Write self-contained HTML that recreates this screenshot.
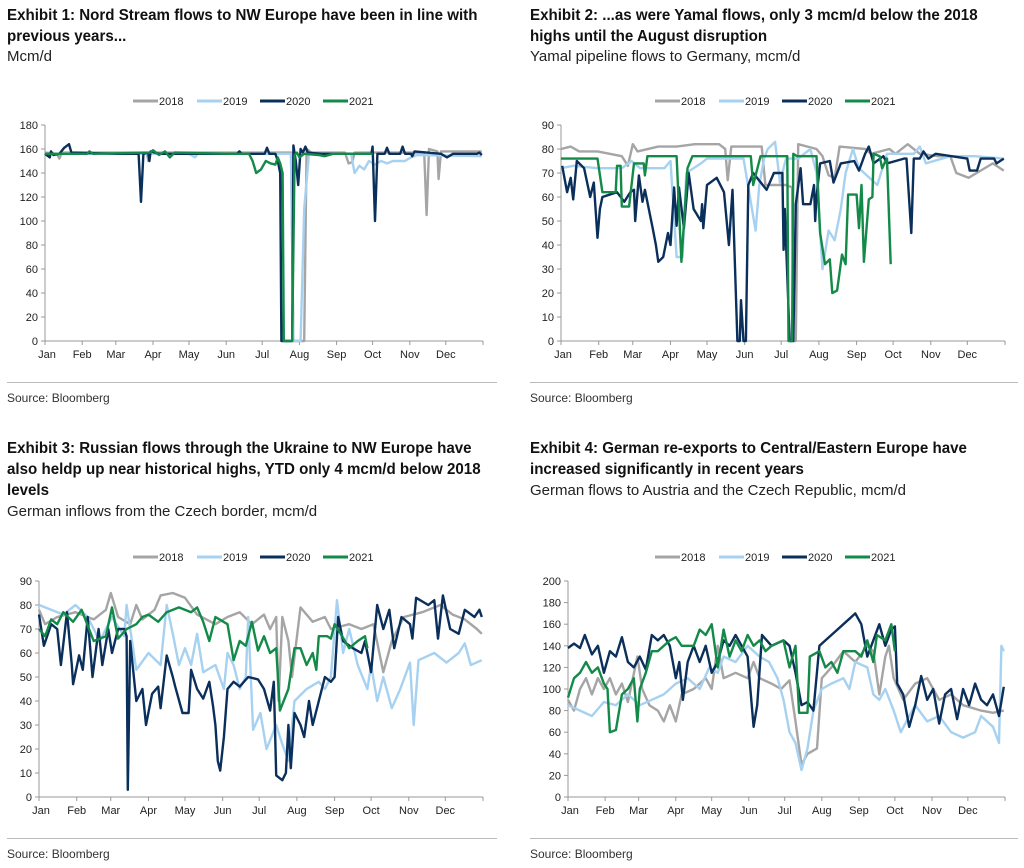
<!DOCTYPE html>
<html><head><meta charset="utf-8">
<style>
body{margin:0;width:1024px;height:868px;background:#fff;position:relative;overflow:hidden;font-family:"Liberation Sans",sans-serif;}
.t{position:absolute;font-family:"Liberation Sans",sans-serif;font-weight:bold;font-size:16px;line-height:21px;color:#111;white-space:nowrap;transform:scaleX(0.945);transform-origin:0 0;}
.s{position:absolute;font-family:"Liberation Sans",sans-serif;font-size:15px;color:#222;white-space:nowrap;}
.src{position:absolute;font-family:"Liberation Sans",sans-serif;font-size:12px;color:#333;}
.sep{position:absolute;height:1px;background:#bbb;}
svg{position:absolute;left:0;top:0;}
</style></head><body>
<div class="t" style="left:7px;top:5px">Exhibit 1: Nord Stream flows to NW Europe have been in line with<br>previous years...</div>
<div class="s" style="left:7px;top:48px">Mcm/d</div>
<div class="t" style="left:530px;top:5px">Exhibit 2: ...as were Yamal flows, only 3 mcm/d below the 2018<br>highs until the August disruption</div>
<div class="s" style="left:530px;top:48px">Yamal pipeline flows to Germany, mcm/d</div>
<div class="t" style="left:7px;top:438px">Exhibit 3: Russian flows through the Ukraine to NW Europe have<br>also heldp up near historical highs, YTD only 4 mcm/d below 2018<br>levels</div>
<div class="s" style="left:7px;top:503px">German inflows from the Czech border, mcm/d</div>
<div class="t" style="left:530px;top:438px">Exhibit 4: German re-exports to Central/Eastern Europe have<br>increased significantly in recent years</div>
<div class="s" style="left:530px;top:482px">German flows to Austria and the Czech Republic, mcm/d</div>
<div class="sep" style="left:7px;top:382px;width:490px"></div>
<div class="sep" style="left:530px;top:382px;width:488px"></div>
<div class="sep" style="left:7px;top:838px;width:490px"></div>
<div class="sep" style="left:530px;top:838px;width:488px"></div>
<div class="src" style="left:7px;top:391px">Source: Bloomberg</div>
<div class="src" style="left:530px;top:391px">Source: Bloomberg</div>
<div class="src" style="left:7px;top:847px">Source: Bloomberg</div>
<div class="src" style="left:530px;top:847px">Source: Bloomberg</div>
<svg id="svg" width="1024" height="868"></svg>
<script>
const years = ["2018","2019","2020","2021"];
const monthLabels = ["Jan","Feb","Mar","Apr","May","Jun","Jul","Aug","Sep","Oct","Nov","Dec"];
const monthStarts = [0,31,59,90,120,151,181,212,243,273,304,334];
const ticks1 = [0,20,40,60,80,100,120,140,160,180];
const ticks2 = [0,10,20,30,40,50,60,70,80,90];
const ticks4 = [0,20,40,60,80,100,120,140,160,180,200];

const nord2018 = [[0,157],[10,156],[12,152],[14,157],[60,157],[85,157],[86,150],[88,157],[205,157],[207,0],[216,0],[218,160],[222,157],[250,157],[253,148],[256,149],[258,157],[316,157],[318,105],[320,160],[327,158],[328,135],[330,158],[364,158]];
const nord2019 = [[0,156],[55,156],[120,156],[125,153],[127,156],[205,156],[207,0],[213,0],[216,110],[220,156],[255,156],[258,140],[262,146],[266,143],[270,150],[275,147],[280,150],[285,148],[290,150],[300,150],[305,153],[310,155],[364,154]];
const nord2020 = [[0,156],[4,153],[5,158],[7,155],[12,156],[16,161],[20,164],[22,157],[60,156],[78,156],[80,116],[82,156],[86,157],[87,150],[88,158],[95,156],[160,156],[162,158],[164,156],[183,156],[185,161],[187,156],[192,156],[194,150],[196,140],[197,0],[204,0],[206,0],[207,163],[209,150],[211,130],[213,160],[215,157],[217,162],[219,157],[230,156],[272,156],[273,162],[275,100],[277,156],[283,156],[285,161],[287,156],[296,156],[298,162],[300,156],[305,156],[306,154],[308,158],[330,156],[335,153],[340,156],[360,156],[362,157],[364,155]];
const nord2021 = [[0,156],[35,156],[37,158],[40,156],[88,157],[90,159],[95,155],[100,158],[104,153],[108,157],[155,156],[170,156],[173,150],[176,140],[180,143],[184,150],[188,148],[192,147],[194,153],[196,148],[198,140],[199,0],[206,0],[208,155],[210,157],[212,153],[216,156],[228,155],[233,154],[240,156],[273,156]];

const yamal2018 = [[0,80],[8,81],[15,79],[30,79],[40,78],[50,77],[55,73],[59,82],[63,79],[80,81],[95,81],[110,82],[130,82],[135,80],[137,67],[140,81],[165,81],[168,65],[185,65],[190,64],[191,0],[193,0],[195,82],[210,80],[215,77],[220,69],[225,68],[229,81],[250,80],[255,78],[270,80],[275,78],[285,82],[295,78],[310,77],[320,77],[325,70],[335,68],[345,71],[355,74],[364,71]];
const yamal2019 = [[0,72],[10,73],[30,72],[50,72],[58,75],[65,72],[85,72],[90,75],[95,35],[100,35],[103,70],[115,74],[120,76],[150,76],[160,46],[163,65],[167,76],[170,80],[176,83],[180,66],[185,76],[195,76],[205,80],[210,70],[215,30],[220,46],[225,42],[230,55],[234,70],[240,80],[245,72],[260,65],[268,78],[290,78],[295,81],[300,74],[320,77],[340,77],[364,76]];
const yamal2020 = [[1,73],[5,62],[8,68],[10,59],[13,75],[19,72],[24,60],[27,66],[30,43],[32,55],[34,60],[46,62],[52,58],[57,62],[60,63],[61,50],[64,69],[67,58],[69,63],[75,48],[78,40],[80,33],[84,35],[88,45],[90,40],[93,64],[95,48],[97,64],[101,47],[105,70],[109,55],[115,50],[116,57],[117,47],[120,65],[128,68],[134,62],[138,40],[141,63],[145,0],[147,0],[148,17],[150,0],[152,0],[154,65],[158,70],[169,63],[175,70],[182,70],[183,38],[184,55],[188,0],[191,0],[193,57],[197,72],[199,57],[205,57],[208,65],[209,50],[210,60],[213,74],[221,75],[224,66],[230,74],[241,75],[245,71],[250,78],[253,81],[257,74],[265,77],[268,74],[282,76],[284,76],[288,45],[290,76],[295,76],[298,79],[302,76],[308,78],[334,76],[336,71],[342,71],[345,76],[356,76],[358,74],[364,76]];
const yamal2021 = [[0,76],[30,76],[34,62],[45,62],[46,73],[49,73],[50,56],[56,56],[60,74],[68,74],[69,69],[71,77],[95,77],[99,33],[104,72],[108,77],[156,77],[158,65],[164,77],[186,77],[187,0],[190,0],[191,78],[194,77],[210,77],[213,45],[217,32],[221,34],[223,20],[227,21],[231,36],[234,32],[236,61],[243,61],[245,47],[247,65],[249,33],[253,59],[256,60],[257,78],[262,77],[264,72],[268,76],[271,32]];

const czech2018 = [[0,78],[5,72],[15,75],[30,77],[45,74],[55,78],[59,85],[65,75],[75,72],[80,80],[85,74],[95,78],[100,84],[110,85],[120,83],[130,76],[145,72],[155,75],[165,77],[175,72],[185,76],[190,70],[195,75],[197,40],[200,75],[205,65],[208,50],[215,79],[225,73],[235,75],[240,70],[255,72],[265,70],[275,72],[283,52],[290,65],[300,75],[315,77],[330,80],[340,76],[350,74],[360,70],[364,68]];
const czech2019 = [[0,80],[10,78],[20,76],[30,80],[40,75],[50,65],[60,75],[70,67],[72,80],[80,53],[90,60],[100,55],[105,80],[110,68],[115,55],[120,62],[125,55],[130,68],[135,52],[145,55],[152,45],[155,60],[160,55],[165,45],[170,50],[172,75],[176,28],[182,35],[187,20],[195,30],[200,22],[205,15],[210,40],[220,45],[230,48],[235,45],[240,50],[245,82],[250,60],[255,70],[262,55],[270,45],[273,55],[278,40],[283,50],[290,37],[297,45],[305,56],[308,30],[312,57],[325,60],[335,56],[345,60],[350,64],[355,55],[364,57]];
const czech2020 = [[0,76],[4,63],[10,72],[15,70],[18,55],[23,77],[27,55],[28,47],[33,59],[36,53],[40,75],[44,50],[49,70],[52,55],[57,70],[60,60],[65,70],[70,70],[72,67],[73,3],[75,65],[80,40],[85,45],[88,30],[93,43],[98,46],[100,37],[105,59],[110,50],[112,46],[118,35],[123,35],[125,53],[130,45],[135,41],[140,48],[143,38],[145,30],[147,15],[149,11],[152,25],[155,45],[160,48],[165,46],[172,50],[180,49],[185,45],[190,36],[193,48],[195,9],[200,7],[203,10],[205,30],[207,12],[210,35],[215,30],[218,25],[222,40],[225,30],[230,40],[235,50],[240,48],[243,50],[246,75],[250,65],[258,62],[265,60],[268,65],[270,60],[273,52],[278,80],[283,70],[288,78],[292,62],[298,75],[305,72],[307,66],[310,83],[320,80],[325,82],[328,66],[332,84],[338,70],[345,68],[350,78],[358,75],[362,78],[364,75]];
const czech2021 = [[0,70],[5,67],[10,74],[15,72],[20,77],[28,73],[35,78],[45,65],[55,67],[60,79],[65,66],[72,70],[80,72],[85,75],[90,76],[98,73],[105,77],[115,79],[125,77],[130,79],[135,73],[140,65],[145,75],[155,72],[160,57],[165,65],[170,63],[175,73],[180,61],[185,67],[190,60],[195,62],[198,36],[205,45],[210,62],[215,62],[220,55],[225,60],[228,53],[230,67],[237,67],[240,66],[243,72],[248,68],[255,62],[262,65],[268,67],[270,62]];

const cee2018 = [[0,90],[5,80],[10,100],[15,110],[20,95],[25,110],[30,100],[35,110],[40,95],[45,105],[50,88],[58,130],[62,100],[68,85],[75,80],[80,70],[85,85],[90,70],[95,95],[105,100],[115,110],[120,100],[125,140],[130,110],[140,115],[150,110],[155,125],[160,110],[170,105],[178,100],[185,108],[190,70],[195,30],[200,40],[208,45],[212,110],[220,120],[230,135],[240,125],[250,140],[255,135],[260,95],[265,130],[268,140],[272,110],[280,90],[290,105],[300,110],[310,90],[320,95],[330,85],[345,80],[355,78],[364,80]];
const cee2019 = [[0,85],[10,80],[20,75],[30,88],[40,85],[50,95],[60,85],[70,90],[80,95],[90,105],[100,110],[110,100],[118,120],[125,115],[130,130],[140,125],[150,140],[160,130],[168,125],[175,110],[180,90],[185,60],[190,50],[195,25],[200,45],[205,80],[212,100],[220,105],[230,110],[235,100],[240,125],[250,120],[255,95],[260,90],[265,100],[272,80],[278,60],[285,75],[290,85],[300,70],[310,75],[320,60],[330,55],[340,60],[345,75],[355,65],[360,50],[362,140],[364,135]];
const cee2020 = [[0,138],[5,142],[10,138],[14,150],[20,132],[25,140],[30,115],[35,135],[40,130],[45,148],[50,125],[55,120],[60,130],[65,118],[70,150],[75,145],[80,150],[85,140],[90,110],[93,125],[96,90],[100,125],[105,140],[110,125],[115,140],[120,115],[125,125],[130,145],[135,140],[140,150],[145,140],[150,130],[155,65],[158,85],[162,150],[170,140],[180,145],[185,140],[190,115],[195,85],[200,88],[205,80],[210,140],[215,145],[220,150],[225,155],[230,160],[235,165],[240,170],[245,160],[250,130],[255,145],[260,160],[265,140],[270,155],[273,158],[275,105],[280,95],[285,65],[290,85],[295,112],[300,90],[305,100],[310,68],[315,95],[320,100],[325,72],[330,100],[335,85],[340,105],[345,90],[350,85],[355,95],[360,75],[364,102]];
const cee2021 = [[0,92],[5,110],[10,115],[15,125],[20,115],[25,120],[30,105],[33,100],[35,60],[40,62],[45,95],[50,100],[55,110],[58,70],[60,100],[65,115],[70,135],[75,135],[85,145],[90,148],[95,140],[105,140],[110,155],[115,150],[120,160],[125,120],[130,155],[135,130],[140,145],[145,135],[150,150],[155,140],[160,145],[165,135],[170,140],[180,145],[185,120],[190,140],[193,78],[200,78],[202,130],[210,135],[215,120],[220,125],[225,115],[230,135],[240,135],[245,130],[250,145],[255,125],[258,150],[265,145],[270,160],[273,135]];

const colors = {"2018":"#a5a5a5","2019":"#a7d1f0","2020":"#0b2f5b","2021":"#138a48"};
const NS = "http://www.w3.org/2000/svg";
const svg = document.getElementById('svg');
function mk(tag, attrs, parent){const e=document.createElementNS(NS,tag);for(const k in attrs)e.setAttribute(k,attrs[k]);(parent||svg).appendChild(e);return e;}

function chart(id, x0, x1, y0, y1, yMax, ticks, legendX, legendY, seriesList){
  const g = mk('g',{});
  
  
  const xs = d => x0 + d/365*(x1-x0);
  const ys = v => y0 - v/yMax*(y0-y1);
  const ya = mk('line',{x1:x0,y1:y1,x2:x0,y2:y0,stroke:'#999','stroke-width':1},g);
  
  
  ticks.forEach(t=>{
    mk('line',{x1:x0-4,y1:ys(t),x2:x0,y2:ys(t),stroke:'#999'},g);
    const tx = mk('text',{x:x0-7,y:ys(t)+4,'text-anchor':'end','font-size':11,fill:'#222','font-family':'Liberation Sans, sans-serif'},g);
    tx.textContent = t;
    
    
  });
  const xa = mk('line',{x1:x0,y1:y0,x2:x1,y2:y0,stroke:'#999'},g);
  
  
  monthStarts.forEach((d,i)=>{
    mk('line',{x1:xs(d),y1:y0,x2:xs(d),y2:y0+4,stroke:'#999'},g);
    const tx = mk('text',{x:xs(d)+ (i==0?2:0),y:y0+17,'text-anchor':'middle','font-size':11,fill:'#222','font-family':'Liberation Sans, sans-serif'},g);
    tx.textContent = monthLabels[i];
    
    
  });
  mk('line',{x1:x1,y1:y0,x2:x1,y2:y0+4,stroke:'#999'},g);
  seriesList.forEach((s,i)=>{
    const pts = s.map(p=>xs(p[0]).toFixed(1)+','+ys(p[1]).toFixed(1)).join(' ');
    const pl = mk('polyline',{points:pts,fill:'none',stroke:colors[years[i]],'stroke-width':2.4,'stroke-linejoin':'round'},g);
    
    
  });
  const offs=[0,64,127,190];
  years.forEach((y,i)=>{
    const lx = legendX+offs[i];
    const ln = mk('line',{x1:lx,y1:legendY,x2:lx+25,y2:legendY,stroke:colors[y],'stroke-width':3},g);
    
    
    const tx = mk('text',{x:lx+26,y:legendY+4,'font-size':11,fill:'#222','font-family':'Liberation Sans, sans-serif'},g);
    tx.textContent = y;
    
    
  });
}
chart('nord-stream-chart',45,483,341,125,180,ticks1,133,101,[nord2018,nord2019,nord2020,nord2021]);
chart('yamal-chart',561,1005,341,125,90,ticks2,655,101,[yamal2018,yamal2019,yamal2020,yamal2021]);
chart('czech-inflows-chart',39,483,797,581,90,ticks2,133,557,[czech2018,czech2019,czech2020,czech2021]);
chart('cee-reexports-chart',568,1005,797,581,200,ticks4,655,557,[cee2018,cee2019,cee2020,cee2021]);
</script>
</body></html>
